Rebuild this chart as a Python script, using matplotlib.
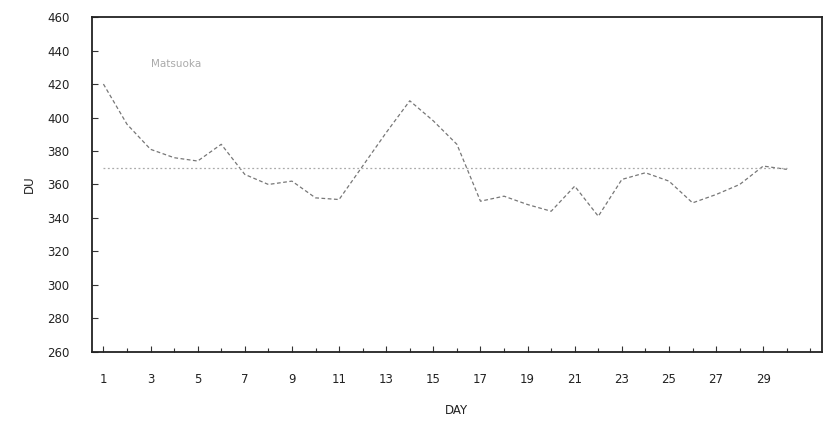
import matplotlib
matplotlib.use("Agg")
import matplotlib.pyplot as plt

# daily total ozone (DU)
days = list(range(1, 31))
ozone = [420, 396, 381, 376, 374, 384, 366, 360, 362, 352,
         351, 371, 391, 410, 398, 384, 350, 353, 348, 344,
         359, 341, 363, 367, 362, 349, 354, 360, 371, 369]
mean_days = [1, 30]
mean_value = 370
station = "Matsuoka"

fig = plt.figure(figsize=(8.33, 4.28), dpi=100)
ax = fig.add_axes([0.110, 0.178, 0.877, 0.782])

ax.plot(days, ozone, color="#777777", lw=0.9, ls=(0, (3, 2)))
ax.plot(mean_days, [mean_value, mean_value], color="#aaaaaa", lw=0.9, ls=(0, (1.5, 2)))

ax.text(3.0, 432, station, fontsize=7.5, color="#aaaaaa", ha="left", va="center")

ax.set_xlim(0.5, 31.5)
ax.set_ylim(260, 460)
ax.set_xticks(range(1, 30, 2))
ax.set_xticks(range(1, 32), minor=True)
ax.set_yticks(range(260, 461, 20))
ax.tick_params(axis="both", which="both", direction="in", labelsize=8.5, color="#333333", labelcolor="#222222")
ax.tick_params(axis="both", which="major", length=4, width=0.8)
ax.tick_params(axis="x", which="major", pad=15)
ax.tick_params(axis="x", which="minor", length=3, width=0.8)
ax.tick_params(axis="y", which="major", pad=16)

for s in ax.spines.values():
    s.set_linewidth(1.3)
    s.set_color("#222222")

ax.set_xlabel("DAY", fontsize=8.5, color="#222222", labelpad=13)
ax.set_ylabel("DU", fontsize=8.5, color="#222222", labelpad=8)

fig.savefig("out.png", dpi=100)
